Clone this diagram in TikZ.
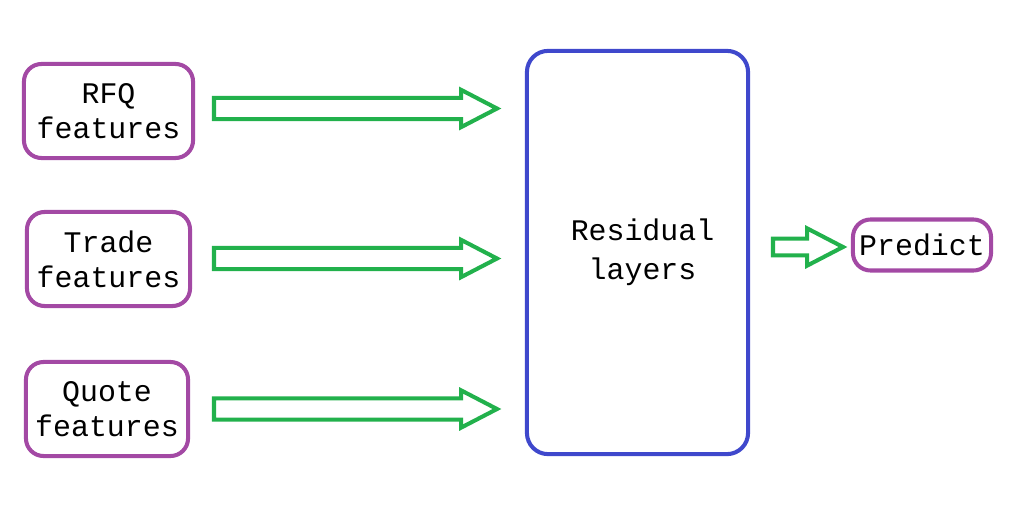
\documentclass[tikz,border=0pt]{standalone}
\usepackage{fontspec}
\setmonofont{Liberation Mono}
\usetikzlibrary{calc}
\usetikzlibrary{positioning}
\definecolor{boxpurple}{HTML}{A349A4}
\definecolor{boxblue}{HTML}{3F48CC}
\definecolor{arrgreen}{HTML}{22B14C}
\tikzset{
    inbox/.style = {rectangle, rounded corners=5pt, line width=1.15pt, draw=boxpurple, align=center, inner sep=0pt},
    layerbox/.style = {rectangle, rounded corners=6pt, line width=1.15pt, draw=boxblue, align=center, inner sep=0pt},
    fatedge/.style = {line width=1.15pt, draw=arrgreen, fill=white, line join=miter},
}
% block arrow from #2 to #3, shaft half height #1
\newcommand{\fatarrow}[3][3pt]{%
  \draw[fatedge] let \p1=(#2), \p2=(#3) in
    (\x1,\y1+#1) -- (\x2-10.2pt,\y1+#1) -- (\x2-10.2pt,\y1+5.3pt) -- (\x2,\y1)
    -- (\x2-10.2pt,\y1-5.3pt) -- (\x2-10.2pt,\y1-#1) -- (\x1,\y1-#1) -- cycle;}

\begin{document}
\begin{tikzpicture}[x=0.01cm,y=-0.01cm,font=\ttfamily\fontsize{8.5}{10}\selectfont]
\useasboundingbox (0,0) rectangle (1024,512);
\node[inbox, minimum width=1.69cm, minimum height=0.94cm] at (108.5,111) (rfq) {RFQ\\features};
\node[inbox, minimum width=1.63cm, minimum height=0.94cm] at (108.5,259) (trade) {Trade\\features};
\node[inbox, minimum width=1.62cm, minimum height=0.94cm] at (107,409) (quote) {Quote\\features};
\node[layerbox, minimum width=2.21cm, minimum height=4.03cm] at (637.5,252.5) (res) {\hspace{0.1cm}Residual\\[1pt]\hspace{0.1cm}layers};
\node[inbox, minimum width=1.38cm, minimum height=0.51cm] at (922,245) (pred) {Predict};
%
\coordinate (s1) at (214,108.5);
\coordinate (e1) at (497,108.5);
\coordinate (s2) at (214,258.5);
\coordinate (e2) at (497,258.5);
\coordinate (s3) at (214,409);
\coordinate (e3) at (497,409);
\coordinate (s4) at (773,247);
\coordinate (e4) at (843,247);
%
\fatarrow{s1}{e1}
\fatarrow{s2}{e2}
\fatarrow{s3}{e3}
\fatarrow[2.4pt]{s4}{e4}

\end{tikzpicture}
\end{document}
